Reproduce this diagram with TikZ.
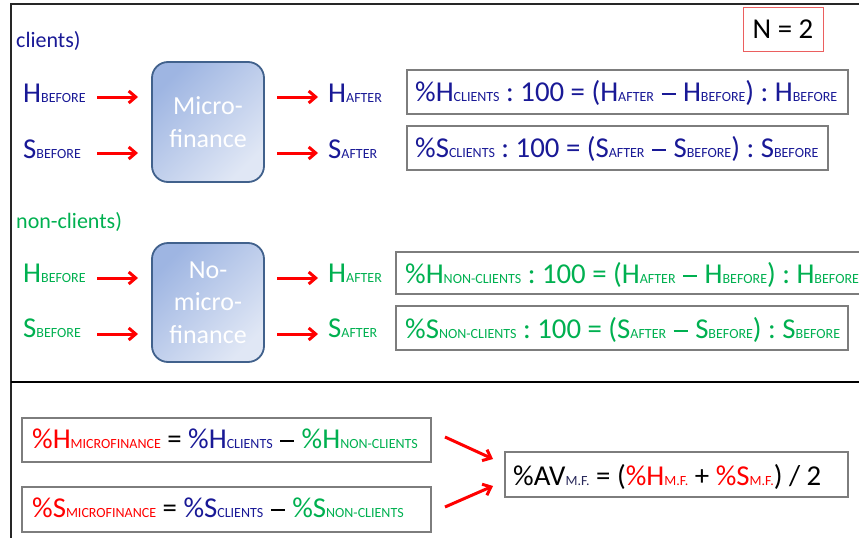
\documentclass[tikz,border=0pt]{standalone}
\usepackage{fontspec}
\setmainfont{Carlito}
\usetikzlibrary{arrows.meta}

\definecolor{cblue}{RGB}{25,25,150}
\definecolor{cgreen}{RGB}{0,176,80}
\definecolor{cred}{RGB}{255,0,0}
\definecolor{boxgray}{RGB}{125,125,125}
\definecolor{nbox}{RGB}{235,95,95}
\definecolor{mfdark}{RGB}{158,181,226}
\definecolor{mflight}{RGB}{224,231,245}
\definecolor{mfedge}{RGB}{65,97,140}
\definecolor{subnavy}{RGB}{40,40,90}

% small capitals set on the baseline after a variable letter
\newcommand\lowcaps[1]{{\fontsize{14}{14}\selectfont #1}}
% long, heavy minus bar used in the formulas
\newcommand\bardash{\kern1pt\rule[6pt]{14pt}{2.3pt}\kern1pt}

\tikzset{
  bigtxt/.style={font=\fontsize{28.8}{30}\selectfont, inner sep=0pt, anchor=base west},
  headtxt/.style={font=\fontsize{22}{24}\selectfont, inner sep=0pt, anchor=base west},
  eqbox/.style={draw=boxgray, line width=1.3pt, inner sep=0pt},
  mfbox/.style={draw=mfedge, line width=1.8pt, rounded corners=16pt,
    top color=mfdark, bottom color=mflight, shading angle=45,
    minimum width=112pt, text=white, align=center,
    font=\fontsize{26}{32.5}\selectfont},
  arr/.style={draw=cred, line width=3pt, -{Straight Barb[length=7pt,width=12pt]}},
  frame/.style={draw=black!85, line width=1.3pt}
}

\begin{document}
\begin{tikzpicture}[x=1pt,y=-1pt]
\useasboundingbox (0,0) rectangle (859,538);

% outer frame and section divider
\draw[frame] (859,4) -- (11,4) -- (11,538);
\draw[draw=black, line width=2.4pt] (11,382) -- (859,382);

% ---------- clients ----------
\node[headtxt, text=cblue] (hcl) at (16,47) {clients)};
\node[bigtxt, text=cblue] (hb1) at (23,102) {H\lowcaps{BEFORE}};
\node[bigtxt, text=cblue] (sb1) at (23,158) {S\lowcaps{BEFORE}};
\node[mfbox, minimum height=120pt] (mf) at (208,122) {Micro-\\finance};
\node[bigtxt, text=cblue] (ha1) at (328,102) {H\lowcaps{AFTER}};
\node[bigtxt, text=cblue] (sa1) at (328,158) {S\lowcaps{AFTER}};

\coordinate (a1s) at (97,97);  \coordinate (a1e) at (138,97);
\coordinate (a2s) at (97,153); \coordinate (a2e) at (138,153);
\coordinate (a3s) at (277,97); \coordinate (a3e) at (318,97);
\coordinate (a4s) at (277,153);\coordinate (a4e) at (318,153);
\draw[arr] (a1s) -- (a1e);
\draw[arr] (a2s) -- (a2e);
\draw[arr] (a3s) -- (a3e);
\draw[arr] (a4s) -- (a4e);

\node[draw=nbox, line width=1pt, minimum width=80pt, minimum height=44pt,
      font=\fontsize{28.8}{30}\selectfont, inner sep=0pt] (nn) at (783,29) {N = 2};

\node[eqbox, minimum width=441pt, minimum height=44pt] (b1) at (627.5,92) {};
\node[eqbox, minimum width=421pt, minimum height=44pt] (b2) at (617.5,148) {};
\node[bigtxt, text=cblue] (e1) at (415,101)
  {\%H\lowcaps{CLIENTS} : 100 = (H\lowcaps{AFTER} \bardash{} H\lowcaps{BEFORE}) : H\lowcaps{BEFORE}};
\node[bigtxt, text=cblue] (e2) at (415,157)
  {\%S\lowcaps{CLIENTS} : 100 = (S\lowcaps{AFTER} \bardash{} S\lowcaps{BEFORE}) : S\lowcaps{BEFORE}};

% ---------- non-clients ----------
\node[headtxt, text=cgreen] (hnc) at (16,228) {non-clients)};
\node[bigtxt, text=cgreen] (hb2) at (23,282) {H\lowcaps{BEFORE}};
\node[bigtxt, text=cgreen] (sb2) at (23,337) {S\lowcaps{BEFORE}};
\node[mfbox, minimum height=119pt] (nmf) at (208,302.5) {No-\\micro-\\finance};
\node[bigtxt, text=cgreen] (ha2) at (328,282) {H\lowcaps{AFTER}};
\node[bigtxt, text=cgreen] (sa2) at (328,337) {S\lowcaps{AFTER}};

\coordinate (a5s) at (97,278);  \coordinate (a5e) at (138,278);
\coordinate (a6s) at (97,334);  \coordinate (a6e) at (138,334);
\coordinate (a7s) at (277,278); \coordinate (a7e) at (318,278);
\coordinate (a8s) at (277,334); \coordinate (a8e) at (318,334);
\draw[arr] (a5s) -- (a5e);
\draw[arr] (a6s) -- (a6e);
\draw[arr] (a7s) -- (a7e);
\draw[arr] (a8s) -- (a8e);

\node[eqbox, minimum width=470pt, minimum height=42pt] (b3) at (631,273) {};
\node[eqbox, minimum width=452pt, minimum height=44pt] (b4) at (622,328) {};
\node[bigtxt, text=cgreen] (e3) at (405,283)
  {\%H\lowcaps{NON-CLIENTS} : 100 = (H\lowcaps{AFTER} \bardash{} H\lowcaps{BEFORE}) : H\lowcaps{BEFORE}};
\node[bigtxt, text=cgreen] (e4) at (405,338)
  {\%S\lowcaps{NON-CLIENTS} : 100 = (S\lowcaps{AFTER} \bardash{} S\lowcaps{BEFORE}) : S\lowcaps{BEFORE}};

% ---------- microfinance effect ----------
\node[eqbox, minimum width=409pt, minimum height=44pt] (b5) at (226.5,440) {};
\node[eqbox, minimum width=409pt, minimum height=45pt] (b6) at (226.5,509.5) {};
\node[eqbox, minimum width=343pt, minimum height=45pt] (b7) at (676.5,474.5) {};

\node[bigtxt] (e5) at (32,448)
  {\textcolor{cred}{\%H\lowcaps{MICROFINANCE}} = \textcolor{cblue}{\%H\lowcaps{CLIENTS}} \bardash{} \textcolor{cgreen}{\%H\lowcaps{NON-CLIENTS}}};
\node[bigtxt] (e6) at (32,517)
  {\textcolor{cred}{\%S\lowcaps{MICROFINANCE}} = \textcolor{cblue}{\%S\lowcaps{CLIENTS}} \bardash{} \textcolor{cgreen}{\%S\lowcaps{NON-CLIENTS}}};
\node[bigtxt] (e7) at (513,485)
  {\%AV\textcolor{subnavy}{\lowcaps{M.F.}} = (\textcolor{cred}{\%H\lowcaps{M.F.}} + \textcolor{cred}{\%S\lowcaps{M.F.}}) / 2};

\coordinate (a9s) at (445,437);  \coordinate (a9e) at (493,459);
\coordinate (a10s) at (445,507); \coordinate (a10e) at (493,486);
\draw[arr] (a9s) -- (a9e);
\draw[arr] (a10s) -- (a10e);
\end{tikzpicture}
\end{document}
